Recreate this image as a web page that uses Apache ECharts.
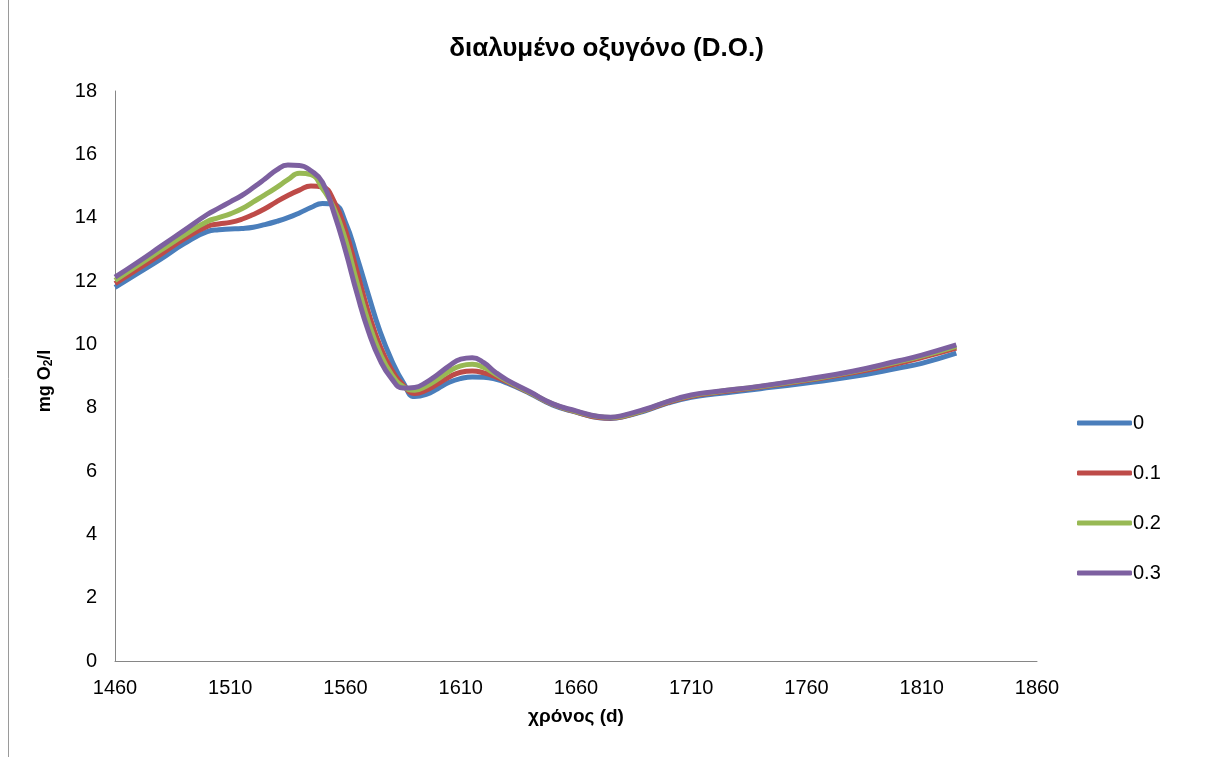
<!DOCTYPE html>
<html>
<head>
<meta charset="utf-8">
<script src="https://cdn.jsdelivr.net/npm/echarts@6/dist/echarts.min.js"></script>
<style>html,body{margin:0;padding:0;background:#fff;}#chart{width:1213px;height:757px;}</style>
</head>
<body>
<div id="chart"></div>
<script>
const titleText = 'διαλυμένο οξυγόνο (D.O.)';
const xName = 'χρόνος (d)';
const seriesNames = ['0', '0.1', '0.2', '0.3'];
const days = [1460,1470,1480,1490,1500,1505,1510,1515,1520,1525,1530,1535,1540,1545,1550,1555,1560,1565,1570,1575,1580,1585,1590,1595,1600,1605,1610,1615,1620,1625,1630,1640,1650,1660,1670,1675,1680,1690,1700,1710,1720,1740,1760,1780,1800,1810,1825];
const do0 = [11.8,12.25,12.7,13.18,13.56,13.62,13.64,13.66,13.7,13.78,13.88,14.0,14.15,14.32,14.45,14.42,13.85,12.75,11.55,10.4,9.5,8.8,8.35,8.42,8.6,8.8,8.92,8.97,8.96,8.9,8.78,8.45,8.08,7.86,7.68,7.66,7.7,7.9,8.15,8.33,8.43,8.6,8.78,8.98,9.25,9.4,9.72];
const do1 = [11.92,12.38,12.85,13.33,13.72,13.8,13.85,13.95,14.1,14.28,14.5,14.7,14.87,15.0,14.97,14.52,13.6,12.3,11.0,9.95,9.2,8.72,8.45,8.55,8.75,8.97,9.12,9.16,9.1,8.98,8.82,8.47,8.1,7.87,7.69,7.67,7.71,7.92,8.17,8.36,8.47,8.65,8.86,9.1,9.4,9.58,9.88];
const do2 = [12.02,12.5,12.98,13.45,13.88,14.0,14.12,14.28,14.5,14.72,14.95,15.2,15.4,15.36,14.92,14.3,13.3,11.95,10.7,9.72,9.05,8.67,8.55,8.68,8.9,9.15,9.32,9.37,9.27,9.06,8.85,8.48,8.11,7.88,7.71,7.69,7.73,7.93,8.19,8.38,8.49,8.67,8.88,9.13,9.45,9.63,9.94];
const do3 = [12.12,12.6,13.1,13.6,14.1,14.3,14.5,14.7,14.95,15.22,15.5,15.66,15.65,15.48,15.12,14.15,12.95,11.6,10.4,9.5,8.92,8.62,8.64,8.8,9.05,9.32,9.53,9.58,9.42,9.12,8.88,8.5,8.12,7.9,7.72,7.7,7.75,7.95,8.2,8.4,8.5,8.68,8.9,9.15,9.48,9.66,9.98];
const colors = ['#4A7EBB', '#BE4B48', '#98B954', '#7D60A0'];

const allValues = [do0, do1, do2, do3];
const chart = echarts.init(document.getElementById('chart'), null, {renderer: 'canvas'});
const font = '"Liberation Sans", Arial, sans-serif';
chart.setOption({
  animation: false,
  backgroundColor: '#fff',
  textStyle: {fontFamily: font},
  title: {
    text: titleText, left: 'center', top: 31,
    textStyle: {fontSize: 26, fontWeight: 'bold', color: '#000', fontFamily: font}
  },
  graphic: [{type: 'line', shape: {x1: 8.5, y1: 0, x2: 8.5, y2: 757}, style: {stroke: '#9a9a9a', lineWidth: 1}}],
  legend: {
    orient: 'vertical', left: 1072, top: 408, itemGap: 30,
    itemWidth: 55, itemHeight: 5, icon: 'roundRect',
    textStyle: {fontSize: 20, color: '#000', fontFamily: font, padding: [0,0,0,-4]},
    data: seriesNames
  },
  grid: {left: 115, right: 176, top: 91, bottom: 96, containLabel: false},
  xAxis: {
    type: 'value', min: 1460, max: 1860, interval: 50,
    name: xName, nameLocation: 'middle', nameGap: 46,
    nameTextStyle: {fontSize: 19, fontWeight: 'bold', color: '#000', fontFamily: font},
    axisLine: {lineStyle: {color: '#868686', width: 1}},
    axisTick: {show: false},
    splitLine: {show: false},
    axisLabel: {fontSize: 20, color: '#000', margin: 17, fontFamily: font, formatter: v => String(v)}
  },
  yAxis: {
    type: 'value', min: 0, max: 18, interval: 2,
    name: '{a|mg O}{s|2}{a|/l}', nameLocation: 'middle', nameGap: 60, nameRotate: 90,
    nameTextStyle: {
      padding: [0, 10, 0, 0],
      rich: {
        a: {fontSize: 18, fontWeight: 'bold', color: '#000', fontFamily: font},
        s: {fontSize: 12, fontWeight: 'bold', color: '#000', fontFamily: font, verticalAlign: 'bottom', padding: [8,0,0,0]}
      }
    },
    axisLine: {show: true, lineStyle: {color: '#868686', width: 1}},
    axisTick: {show: false},
    splitLine: {show: false},
    axisLabel: {fontSize: 20, color: '#000', margin: 18, fontFamily: font}
  },
  series: seriesNames.map((n, i) => ({
    name: n, type: 'line', smooth: 0.5, showSymbol: false, symbol: 'none',
    color: colors[i],
    lineStyle: {width: 5, color: colors[i]},
    itemStyle: {color: colors[i]},
    data: days.map((d, k) => [d, allValues[i][k]]),
    z: 2 + i
  }))
});
</script>
</body>
</html>
